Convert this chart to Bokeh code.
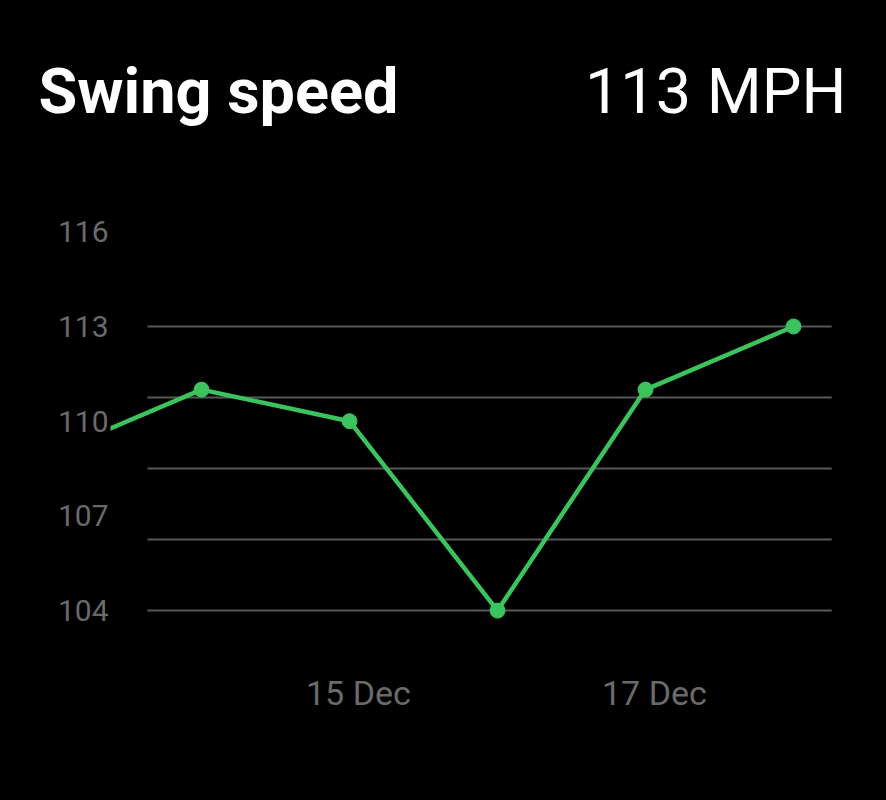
from bokeh.plotting import figure
from bokeh.models import Range1d, FixedTicker, CustomJSTickFormatter
from bokeh.core.properties import value
from bokeh.embed import file_html
from bokeh.resources import INLINE

# ---- data ----
days = [13, 14, 15, 16, 17, 18]            # December
speed = [109, 111, 110, 104, 111, 113]      # MPH
y_ticks = [104, 107, 110, 113, 116]
x_tick_days = [13, 15, 17]
grid_vals = [104, 106.25, 108.5, 110.75, 113]
title_text = "Swing speed"
value_text = "113 MPH"

GREEN = "#3bc35e"
GRID = "#585858"
LABEL = "#6a6a6a"
W = 886
HEAD_H = 200
CHART_H = 600

# ---- header (frame covers the whole canvas, 1 unit = 1 px) ----
h = figure(width=W, height=HEAD_H, output_backend="svg", toolbar_location=None,
           x_range=Range1d(0, W), y_range=Range1d(HEAD_H, 0), min_border=0)
h.axis.visible = False
h.grid.visible = False
h.outline_line_color = None
h.background_fill_color = "black"
h.border_fill_color = "black"
h.text(x=[38], y=[91], text=[title_text], text_font=value("Roboto"), text_font_style="bold",
       text_font_size="63px", text_color="white", text_baseline="alphabetic", text_align="left")
h.text(x=[846], y=[91], text=[value_text], text_font=value("Roboto"),
       text_font_size="63px", text_color="white", text_baseline="alphabetic", text_align="right")

# ---- chart ----
p = figure(width=W, height=CHART_H, output_backend="svg", toolbar_location=None,
           x_range=Range1d(13.385, 18.574), y_range=Range1d(102.42, 116.99),
           min_border_left=110, min_border_right=8, min_border_top=0, min_border_bottom=140)
p.background_fill_color = "black"
p.border_fill_color = "black"
p.outline_line_color = None
p.xgrid.visible = False
p.ygrid.visible = False

# custom horizontal guide lines (shorter than the frame)
p.segment(x0=[days[1] - 0.365] * len(grid_vals), x1=[days[-1] + 0.258] * len(grid_vals),
          y0=grid_vals, y1=grid_vals, line_color=GRID, line_width=2)

p.line(days, speed, line_color=GREEN, line_width=4.5)
p.scatter(days, speed, size=15, fill_color=GREEN, line_color=GREEN)

ya = p.yaxis[0]
ya.ticker = FixedTicker(ticks=y_ticks)
ya.axis_line_color = None
ya.major_tick_line_color = None
ya.minor_tick_line_color = None
ya.major_tick_out = 0
ya.major_label_standoff = 2
ya.major_label_text_font = "Roboto"
ya.major_label_text_font_size = "30px"
ya.major_label_text_color = LABEL

xa = p.xaxis[0]
xa.ticker = FixedTicker(ticks=[d + 0.06 for d in x_tick_days])
xa.formatter = CustomJSTickFormatter(code="return Math.round(tick) + ' Dec'")
xa.axis_line_color = None
xa.major_tick_line_color = None
xa.minor_tick_line_color = None
xa.major_tick_out = 0
xa.major_label_standoff = 12
xa.major_label_text_font = "Roboto"
xa.major_label_text_font_size = "34px"
xa.major_label_text_color = LABEL

html = file_html([h, p], INLINE)
css = ("<style>html,body{margin:0;padding:0;background:#000;}"
       "body{display:flex;flex-direction:column;align-items:flex-start;}</style>")
html = html.replace("</head>", css + "</head>", 1)
open("out.html", "w").write(html)
